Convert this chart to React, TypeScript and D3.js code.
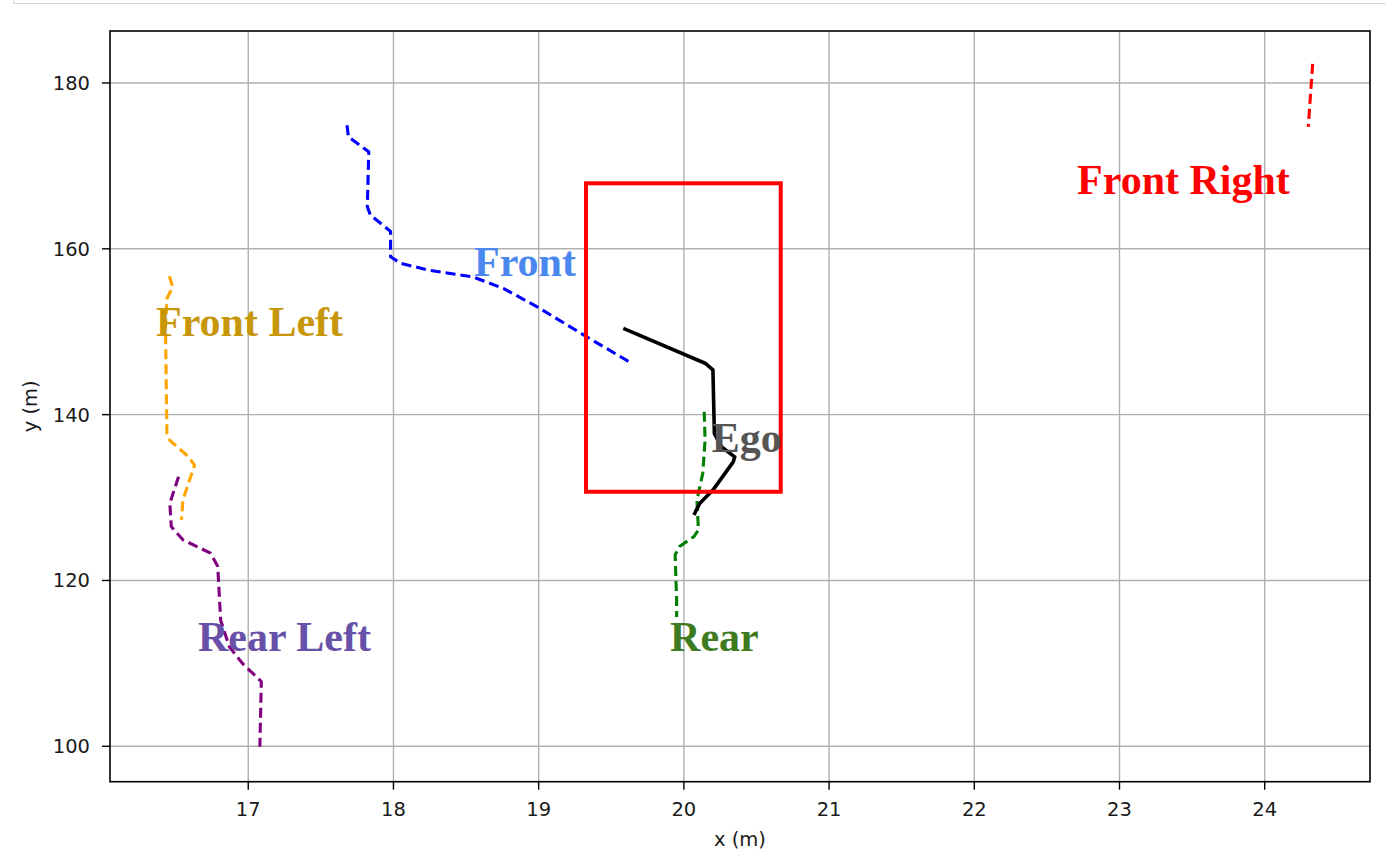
import React from "react";
import * as d3 from "d3";

type P = [number, number];

const xTicks = [17, 18, 19, 20, 21, 22, 23, 24];
const yTicks = [100, 120, 140, 160, 180];

const frontRight: P[] = [[24.33, 182.3], [24.315, 178.5], [24.3, 174.7]];
const front: P[] = [
  [17.68, 174.9], [17.69, 173.5], [17.83, 171.7], [17.82, 165.1], [17.84, 164.1],
  [17.98, 162.1], [17.98, 159.05], [18.05, 158.25], [18.25, 157.4], [18.55, 156.6],
  [18.76, 155.2], [18.99, 153.0], [19.33, 149.4], [19.64, 146.2],
];
const frontLeft: P[] = [
  [16.457, 156.7], [16.48, 155.4], [16.44, 154.0], [16.43, 150.6], [16.44, 137.7],
  [16.46, 136.9], [16.59, 134.9], [16.63, 133.9], [16.55, 129.7], [16.54, 127.3],
];
const rearLeft: P[] = [
  [16.52, 132.5], [16.46, 129.3], [16.47, 126.5], [16.55, 124.9], [16.74, 123.3],
  [16.79, 121.7], [16.81, 115.2], [16.87, 112.0], [16.96, 110.0], [17.09, 107.8],
  [17.08, 99.95],
];
const rear: P[] = [
  [20.14, 140.35], [20.146, 136.9], [20.13, 132.9], [20.09, 129.7], [20.1, 126.1],
  [20.07, 125.3], [19.97, 124.1], [19.94, 123.1], [19.95, 117.6], [19.95, 115.6],
];
const ego: P[] = [
  [19.583, 150.4], [20.146, 146.2], [20.2, 145.4], [20.21, 137.7], [20.26, 136.1],
  [20.35, 134.9], [20.34, 134.3], [20.2, 130.9], [20.11, 129.3], [20.08, 128.3],
  [20.07, 127.9],
];
const egoBox = { x0: 19.326, x1: 20.667, y0: 130.7, y1: 167.9 };

const seriesNames = ["Front Right", "Front", "Front Left", "Rear Left", "Rear", "Ego"];
const seriesData = [frontRight, front, frontLeft, rearLeft, rear, ego];
const seriesColors = ["#ff0000", "#0000ff", "#ffa500", "#800080", "#008000", "#000000"];
const seriesDashed = [true, true, true, true, true, false];

const labelNames = ["Front Right", "Front", "Front Left", "Rear Left", "Rear", "Ego"];
const labelX = [22.708, 18.555, 16.365, 16.654, 19.905, 20.192];
const labelY = [166.6, 156.7, 149.5, 111.5, 111.5, 135.5];
const labelColors = ["#ff0000", "#4a88f0", "#c8960a", "#6650a8", "#3e7a1e", "#555555"];

const left = 110, right = 1370, top = 31, bottom = 781.7;

export default function App() {
  const x = d3.scaleLinear().domain([16.048, 24.725]).range([left, right]);
  const y = d3.scaleLinear().domain([95.73, 186.27]).range([bottom, top]);
  const line = d3.line<P>().x((d) => x(d[0])).y((d) => y(d[1]));
  const tickFont = "'DejaVu Sans', sans-serif";

  return (
    <svg width={1386} height={860} style={{ position: "absolute", left: 0, top: 0, background: "#fff" }}>
      <rect x={0} y={0} width={1386} height={860} fill="#fff" />
      <line x1={13} x2={1386} y1={3.5} y2={3.5} stroke="#d4d8de" strokeWidth={1} />
      <line x1={13.5} x2={13.5} y1={0} y2={4} stroke="#d4d8de" strokeWidth={1} />
      {/* grid */}
      {xTicks.map((t) => (
        <line key={"gx" + t} x1={x(t)} x2={x(t)} y1={top} y2={bottom} stroke="#b0b0b0" strokeWidth={1.4} />
      ))}
      {yTicks.map((t) => (
        <line key={"gy" + t} x1={left} x2={right} y1={y(t)} y2={y(t)} stroke="#b0b0b0" strokeWidth={1.4} />
      ))}
      {/* series */}
      {seriesData.map((d, i) => (
        <path
          key={seriesNames[i]}
          d={line(d) || ""}
          fill="none"
          stroke={seriesColors[i]}
          strokeWidth={seriesDashed[i] ? 3.1 : 3.6}
          strokeDasharray={seriesDashed[i] ? "10 5" : undefined}
          strokeLinejoin="round"
        />
      ))}
      {/* ego box */}
      <rect
        x={x(egoBox.x0)}
        y={y(egoBox.y1)}
        width={x(egoBox.x1) - x(egoBox.x0)}
        height={y(egoBox.y0) - y(egoBox.y1)}
        fill="none"
        stroke="#ff0000"
        strokeWidth={4}
      />
      {/* labels */}
      {labelNames.map((n, i) => (
        <text
          key={"lab" + n}
          x={x(labelX[i])}
          y={y(labelY[i])}
          fill={labelColors[i]}
          fontFamily="'Liberation Serif', 'Times New Roman', serif"
          fontWeight="bold"
          fontSize={42}
        >
          {n}
        </text>
      ))}
      {/* frame */}
      <rect x={left} y={top} width={right - left} height={bottom - top} fill="none" stroke="#000" strokeWidth={1.6} />
      {/* x ticks */}
      {xTicks.map((t) => (
        <g key={"xt" + t}>
          <line x1={x(t)} x2={x(t)} y1={bottom} y2={bottom + 8} stroke="#000" strokeWidth={1.4} />
          <text x={x(t)} y={816} textAnchor="middle" fontFamily={tickFont} fontSize={19.5} fill="#1a1a1a">
            {t}
          </text>
        </g>
      ))}
      {yTicks.map((t) => (
        <g key={"yt" + t}>
          <line x1={left - 8} x2={left} y1={y(t)} y2={y(t)} stroke="#000" strokeWidth={1.4} />
          <text x={90} y={y(t)} dy="0.36em" textAnchor="end" fontFamily={tickFont} fontSize={19.5} fill="#1a1a1a">
            {t}
          </text>
        </g>
      ))}
      <text x={(left + right) / 2} y={846} textAnchor="middle" fontFamily={tickFont} fontSize={19.5} fill="#1a1a1a">
        x (m)
      </text>
      <text
        transform={`translate(37,${(top + bottom) / 2}) rotate(-90)`}
        textAnchor="middle"
        fontFamily={tickFont}
        fontSize={19.5}
        fill="#1a1a1a"
      >
        y (m)
      </text>
    </svg>
  );
}
